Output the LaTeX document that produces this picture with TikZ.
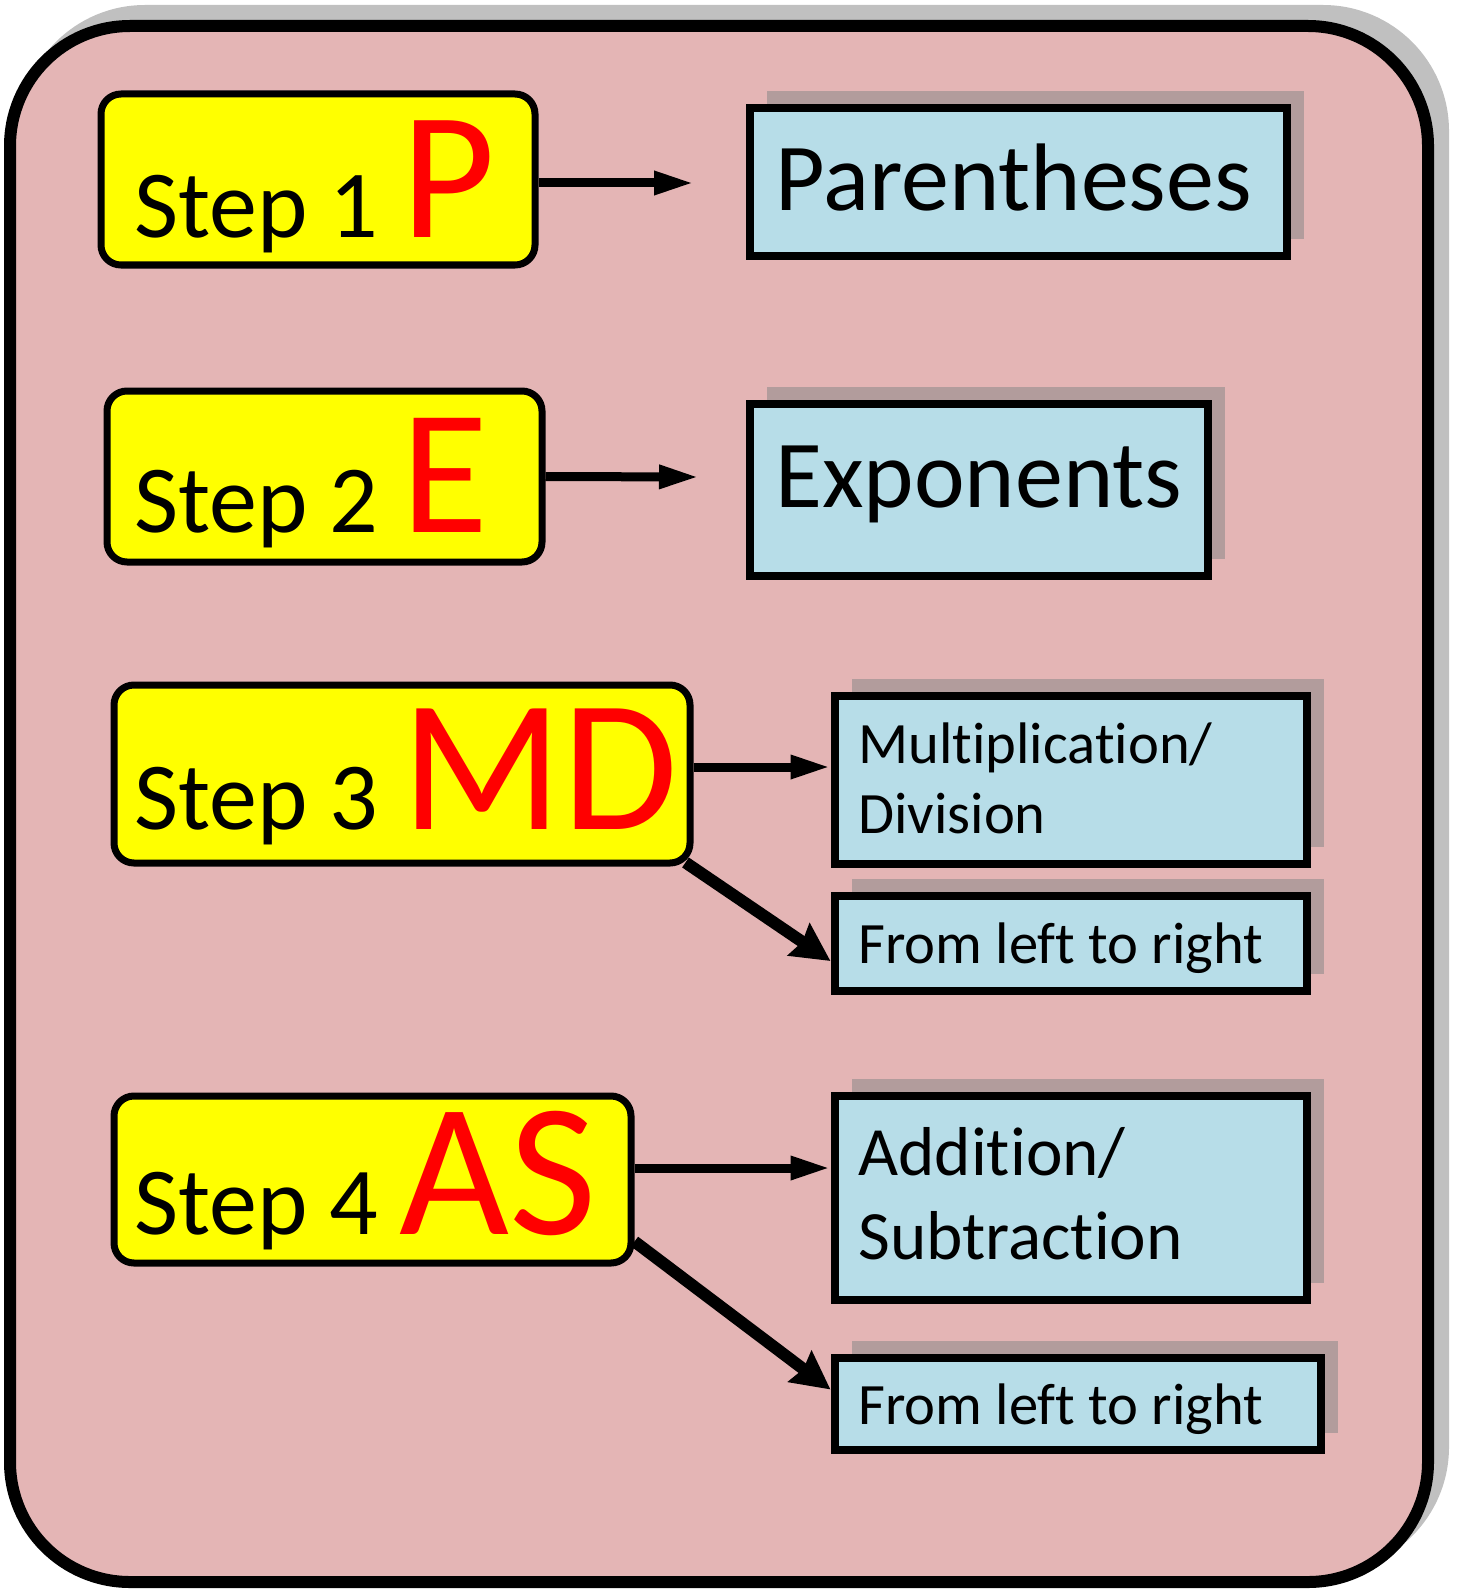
\documentclass[tikz,border=0pt]{standalone}
\usepackage{fontspec}
\setmainfont{Carlito}[Ligatures={NoCommon,NoContextual}]
\usetikzlibrary{arrows.meta,shadows}
\definecolor{bgpink}{HTML}{E4B5B5}
\definecolor{boxblue}{HTML}{B7DDE8}
\definecolor{shade}{HTML}{B29C9C}
\definecolor{frameshade}{HTML}{C0C0C0}
\definecolor{stepyellow}{HTML}{FFFF00}
\definecolor{stepred}{HTML}{FF0000}
\tikzset{
  frame/.style={draw=black, fill=bgpink, line width=6pt, rounded corners=60pt,
    minimum width=709pt, minimum height=778pt, inner sep=0pt},
  stepbox/.style={draw=black, fill=stepyellow, line width=3.5pt, rounded corners=10pt, inner sep=0pt},
  opbox/.style={draw=black, fill=boxblue, line width=4pt, inner sep=0pt,
    general shadow={fill=shade, shadow xshift=8.5pt, shadow yshift=8.5pt}},
  steptxt/.style={anchor=base west, inner sep=0pt, font=\fontsize{48}{58}\selectfont},
  bigtxt/.style={anchor=base west, inner sep=0pt, text=stepred},
  optxt/.style={anchor=base west, inner sep=0pt},
  arr/.style={line width=4.5pt, -{Triangle[length=20pt,width=11pt]}},
  darr/.style={line width=6pt, -{Stealth[length=19pt,width=19pt,inset=2pt]}}
}
\begin{document}
\begin{tikzpicture}[x=0.5pt,y=-0.5pt]
\useasboundingbox (0,0) rectangle (1458,1589);
% outer frame
\node[frame, draw=frameshade, fill=frameshade] (frameshadow) at (734,789) {};
\node[frame] (frame) at (719,804) {};
% step boxes
\node[stepbox, minimum width=217pt, minimum height=85.5pt] (s1) at (318,179.5) {};
\node[stepbox, minimum width=217.5pt, minimum height=85.5pt] (s2) at (324.5,476.5) {};
\node[stepbox, minimum width=288pt, minimum height=89pt] (s3) at (402,774) {};
\node[stepbox, minimum width=258.5pt, minimum height=83.5pt] (s4) at (372.5,1179.5) {};
% operation boxes
\node[opbox, minimum width=268.5pt, minimum height=74pt] (par) at (1018,182.5) {};
\node[opbox, minimum width=229pt, minimum height=86pt] (exp) at (978.5,489.5) {};
\node[opbox, minimum width=236pt, minimum height=84pt] (mul) at (1070.5,779.5) {};
\node[opbox, minimum width=236pt, minimum height=47.5pt] (lr1) at (1070.5,943) {};
\node[opbox, minimum width=236pt, minimum height=102pt] (add) at (1070.5,1197.5) {};
\node[opbox, minimum width=243pt, minimum height=46pt] (lr2) at (1077.5,1403.5) {};
% step texts
\node[steptxt] (t1) at (134,238) {Step 1};
\node[bigtxt, font=\fontsize{91}{104}\selectfont] (l1) at (401,238) {P};
\node[steptxt] (t2) at (134,532) {Step 2};
\node[bigtxt, font=\fontsize{89}{104}\selectfont] (l2) at (401,532) {E};
\node[steptxt] (t3) at (134,829) {Step 3};
\node[bigtxt, font=\fontsize{94}{108}\selectfont] (l3) at (401,829) {MD};
\node[steptxt] (t4) at (134,1234) {Step 4};
\node[bigtxt, font=\fontsize{95}{108}\selectfont] (l4) at (399,1234) {AS};
% operation texts
\node[optxt, font=\fontsize{48}{56}\selectfont] (tp) at (775,211) {Parentheses};
\node[optxt, font=\fontsize{48}{56}\selectfont] (te) at (775,507) {Exponents};
\node[optxt, font=\fontsize{29.3}{36}\selectfont] (tm1) at (858,763) {Multiplication/};
\node[optxt, font=\fontsize{29.3}{36}\selectfont] (tm2) at (858,833) {Division};
\node[optxt, font=\fontsize{29.3}{36}\selectfont] (tl1) at (858,963) {From left to right};
\node[optxt, font=\fontsize{34.6}{42}\selectfont] (ta1) at (858,1175) {Addition/};
\node[optxt, font=\fontsize{34.6}{42}\selectfont] (ta2) at (858,1259) {Subtraction};
\node[optxt, font=\fontsize{29.3}{36}\selectfont] (tl2) at (858,1424) {From left to right};
% arrows
\coordinate (e1) at (694,183);
\coordinate (e2) at (699,477);
\draw[arr] ([yshift=-1.75pt]s1.east) -- (e1);
\draw[arr] (s2.east) -- (e2);
\draw[arr] ([yshift=3.5pt]s3.east) -- ([yshift=3.5pt]s3.east -| mul.west);
\draw[darr] ([xshift=-4pt,yshift=2pt]s3.south east) -- ([yshift=-9pt]lr1.west);
\draw[arr] ([yshift=5.75pt]s4.east) -- ([yshift=5.75pt]s4.east -| add.west);
\draw[darr] ([yshift=12.5pt]s4.south east) -- ([yshift=7pt]lr2.west);
\end{tikzpicture}
\end{document}
